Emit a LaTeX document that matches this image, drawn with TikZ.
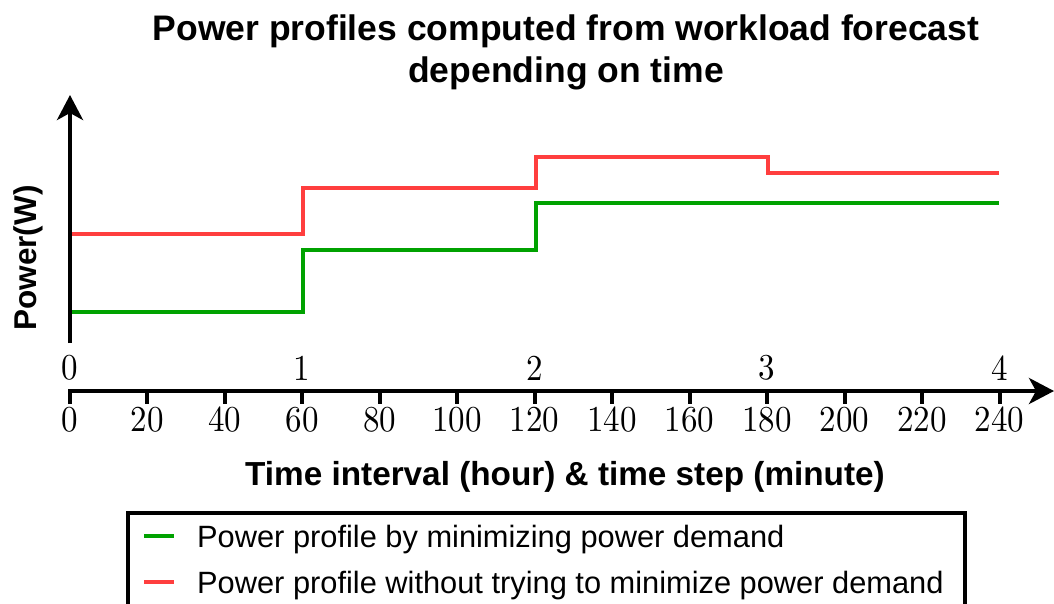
\documentclass[tikz,border=0pt]{standalone}
\usepackage{graphicx}
\usepackage{fontspec}
\setsansfont{Liberation Sans}
\usetikzlibrary{arrows.meta}
\definecolor{profred}{RGB}{255,62,62}
\definecolor{profgreen}{RGB}{0,162,0}
% tick numbers: text-size Latin Modern, enlarged
\newcommand{\ticktext}[1]{\scalebox{3.3}[3.65]{\rmfamily\fontsize{10}{12}\selectfont #1}}
\begin{document}
\begin{tikzpicture}[x=1pt,y=-1pt,
  axisline/.style={line width=4pt, black, line join=miter},
  axistip/.style={-{Stealth[length=25pt,width=26pt,inset=7pt]}},
  profile/.style={line width=4pt, line join=miter},
  ticklab/.style={inner sep=0pt},
  titlefont/.style={font=\sffamily\bfseries\fontsize{35.5}{42}\selectfont, inner sep=0pt},
  legtext/.style={font=\sffamily\fontsize{30.8}{36}\selectfont, inner sep=0pt, anchor=base west},
  legline/.style={line width=4pt}]
\useasboundingbox (0,0) rectangle (1054,604);

% title
\node[titlefont, anchor=base] (title1) at (566,41) {Power profiles computed from workload forecast};
\node[titlefont, anchor=base] (title2) at (566,83) {depending on time};

% vertical axis
\coordinate (ybot) at (70,343);
\coordinate (ytop) at (70,95);
\draw[axisline, axistip] (ybot) -- (ytop);
\node[font=\sffamily\bfseries\fontsize{31.5}{36}\selectfont, rotate=90, inner sep=0pt] (ylab) at (28,258) {Power(W)};

% horizontal axis with the zero tick
\coordinate (x0tick) at (69.5,404);
\coordinate (xorig) at (69.5,391);
\coordinate (xend) at (1054,391);
\draw[axisline, axistip] (x0tick) -- (xorig) -- (xend);

% minute ticks and labels
\foreach \t in {0,20,...,240} {
  \pgfmathsetmacro{\xx}{69.5+3.875*\t}
  \ifnum\t>0 \draw[axisline] (\xx,391) -- (\xx,404); \fi
  \node[ticklab] (min\t) at (\xx,420) {\ticktext{\t}};
}
% hour labels
\foreach \h in {0,1,2,3,4} {
  \pgfmathsetmacro{\xx}{69.5+232.5*\h}
  \node[ticklab] (hr\h) at (\xx,368) {\ticktext{\h}};
}

% axis title
\node[font=\sffamily\bfseries\fontsize{33.3}{40}\selectfont, inner sep=0pt] (xlab) at (565,477) {Time interval (hour) \& time step (minute)};

% power profiles
\draw[profile, profred] (72,234) -- (303,234) -- (303,188) -- (536,188) -- (536,157) -- (768,157) -- (768,173) -- (999,173);
\draw[profile, profgreen] (72,312) -- (303,312) -- (303,250) -- (536,250) -- (536,203) -- (999,203);

% legend
\draw[line width=3.5pt, line join=miter] (128,620) -- (128,513) -- (965,513) -- (965,620);
\coordinate (lg1a) at (144,536);
\coordinate (lg1b) at (174,536);
\coordinate (lg2a) at (144,582);
\coordinate (lg2b) at (174,582);
\draw[legline, profgreen] (lg1a) -- (lg1b);
\draw[legline, profred] (lg2a) -- (lg2b);
\node[legtext] (leg1) at (197,547) {Power profile by minimizing power demand};
\node[legtext] (leg2) at (197,593) {Power profile without trying to minimize power demand};
\end{tikzpicture}
\end{document}
